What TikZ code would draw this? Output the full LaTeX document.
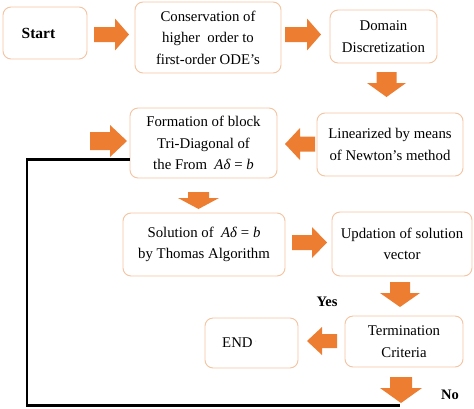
\documentclass[tikz,border=0pt]{standalone}
\usepackage{fontspec}
\setmainfont{Liberation Serif}
\definecolor{arrowor}{HTML}{ED7D31}
\definecolor{boxline}{HTML}{F5C3A0}
\newcommand\harr[6]{\fill[arrowor] (#1,#4-#5) -- (#2,#4-#5) -- (#2,#4-#6) -- (#3,#4) -- (#2,#4+#6) -- (#2,#4+#5) -- (#1,#4+#5) -- cycle;}
\newcommand\varr[6]{\fill[arrowor] (#4-#5,#1) -- (#4-#5,#2) -- (#4-#6,#2) -- (#4,#3) -- (#4+#6,#2) -- (#4+#5,#2) -- (#4+#5,#1) -- cycle;}
\begin{document}
\begin{tikzpicture}[x=1pt,y=-1pt,
  flowbox/.style={draw=boxline, line width=0.9pt, fill=white, rounded corners=8pt, align=center, inner sep=0pt,
    font=\fontsize{14.8}{21.5}\selectfont},
  lbl/.style={font=\fontsize{14.5}{16}\selectfont\bfseries, inner sep=0pt}]
\useasboundingbox (0,0) rectangle (474,408);
% feedback line
\coordinate (fbtop) at (27,159.5);
\coordinate (fbbot) at (27,405.5);
\coordinate (fbend) at (400,405.5);
% boxes
\node[flowbox, minimum width=84pt, minimum height=52pt] (start) at (45,33) {\fontsize{15.5}{18}\selectfont\textbf{Start}\hspace{13pt}};
\node[flowbox, minimum width=146pt, minimum height=71pt] (cons) at (208,37.5) {Conservation of\\higher\ \ order to\\first-order ODE’s};
\node[flowbox, minimum width=107pt, minimum height=53pt] (dom) at (383.5,36.5) {Domain\\Discretization};
\node[flowbox, minimum width=147pt, minimum height=70pt] (form) at (203.5,143) {Formation of block\\Tri-Diagonal of\\the From \ \textit{Aδ} = \textit{b}};
\node[flowbox, minimum width=146pt, minimum height=63pt] (lin) at (390,144.5) {Linearized by means\\of Newton’s method};
\node[flowbox, minimum width=162pt, minimum height=63pt] (sol) at (204,244.5) {Solution of \ \textit{Aδ} = \textit{b}\\by Thomas Algorithm};
\node[flowbox, minimum width=140pt, minimum height=64pt] (upd) at (402,244) {Updation of solution\\vector};
\node[flowbox, minimum width=118pt, minimum height=51pt] (term) at (404,341.5) {Termination\\Criteria};
\node[flowbox, minimum width=93pt, minimum height=50pt] (fin) at (251.5,343) {END\,\raisebox{0.5ex}{\textcolor{gray!60}{\tiny'}}\hspace{24pt}};
% black feedback line
\draw[line width=2.8pt, black] (form.west |- fbtop) -- (fbtop) -- (fbbot) -- (fbend);
% block arrows
\harr{94}{115}{129}{34.5}{7.5}{16}
\harr{285}{307}{321}{34.5}{7.5}{16}
\varr{72}{83}{97}{386.5}{10}{19.5}
\harr{315}{300}{285}{144}{7.5}{16}
\harr{90}{110}{127}{141}{9}{16}
\varr{192}{198}{209}{198.5}{10.5}{20.5}
\harr{292}{312}{327}{242.5}{7.5}{15.5}
\varr{282}{293}{307}{400}{10}{20}
\harr{337}{322}{307}{341}{7}{14}
\varr{377}{388}{403}{401}{11}{21}
% labels
\node[lbl] (yes) at (327,302) {Yes};
\node[lbl] (no) at (450,395) {No};
\end{tikzpicture}
\end{document}
